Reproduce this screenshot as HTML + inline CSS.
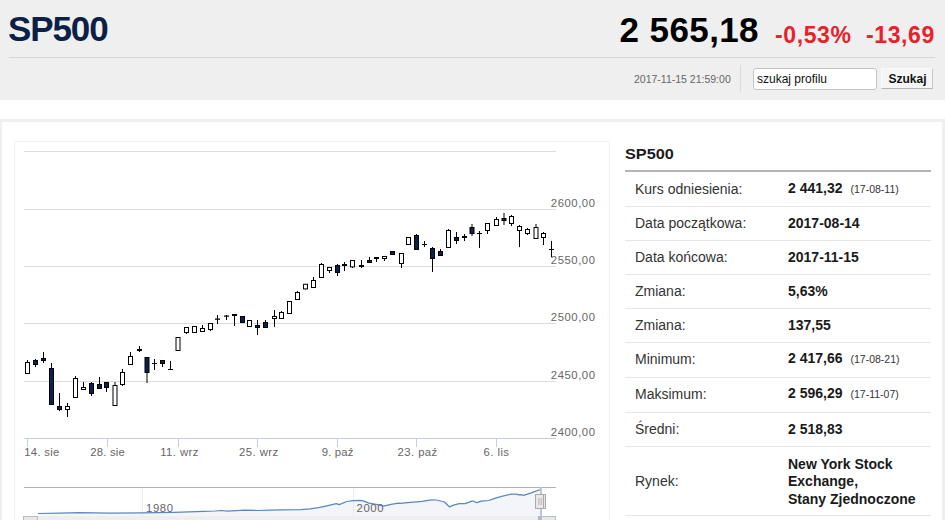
<!DOCTYPE html>
<html><head><meta charset="utf-8"><title>SP500</title>
<style>
*{box-sizing:border-box;margin:0;padding:0}
html,body{width:945px;height:520px;overflow:hidden;background:#fff;font-family:"Liberation Sans",sans-serif}
.abs{position:absolute}
#hdr{position:absolute;left:0;top:0;width:945px;height:100px;background:#efefef}
#title{position:absolute;left:8px;top:9px;font-size:35px;line-height:40px;font-weight:bold;color:#0b1f47;letter-spacing:-1.1px;white-space:nowrap}
#hline{position:absolute;left:9px;top:57px;width:926px;height:1px;background:#d6d6d6}
#price{position:absolute;right:186px;top:10px;font-size:35px;line-height:40px;font-weight:bold;color:#000;white-space:nowrap;letter-spacing:0.4px}
#pct{position:absolute;left:775px;top:22px;font-size:23px;line-height:26px;font-weight:bold;color:#e8212b;white-space:nowrap;letter-spacing:0.6px}
#chg{position:absolute;left:866px;top:22px;font-size:23px;line-height:26px;font-weight:bold;color:#e8212b;white-space:nowrap;letter-spacing:0.6px}
#date{position:absolute;left:634px;top:73px;font-size:10.5px;line-height:13px;color:#666;white-space:nowrap}
#vsep{position:absolute;left:740px;top:65px;width:1px;height:27px;background:#dadada}
#inp{position:absolute;left:753px;top:68px;width:124px;height:22px;background:#fff;border:1px solid #c4c4c4;border-radius:3px;font-size:12px;line-height:20px;padding-left:3px;color:#111;white-space:nowrap}
#btn{position:absolute;left:881px;top:68px;width:52px;height:21px;background:#f5f5f5;border:1px solid #fafafa;border-right-color:#c9c9c9;border-bottom-color:#b5b5b5;font-size:12px;line-height:20px;font-weight:bold;color:#111;text-align:center;white-space:nowrap;padding-left:1px}
#box{position:absolute;left:-1px;top:119px;width:946px;height:420px;border:3px solid #efefef;background:#fff}
#chartbox{position:absolute;left:14px;top:141px;width:596px;height:400px;border:1px solid #f0f1f3;background:#fff}
svg text.ax{font-family:"Liberation Sans",sans-serif;font-size:11.3px;fill:#666}
#ptitle{position:absolute;left:624.5px;top:145px;font-size:15px;line-height:18px;font-weight:bold;color:#1c1c1c;white-space:nowrap;transform:scaleX(1.085);transform-origin:0 0}
#pline{position:absolute;left:625px;top:170px;width:306px;height:2px;background:#b4b4b4}
.sep{position:absolute;left:625px;width:306px;height:1px;background:#e6e6e6}
.lab{position:absolute;left:635px;font-size:14px;line-height:16px;color:#333;white-space:nowrap}
.val{position:absolute;left:788px;font-size:14px;line-height:16px;font-weight:bold;color:#1a1a1a;white-space:nowrap}
.sm{font-size:10.5px;font-weight:normal;color:#333;margin-left:8px;position:relative;top:-0.5px}
</style></head><body>
<div id="hdr">
<div id="title">SP500</div>
<div id="hline"></div>
<div id="price">2 565,18</div>
<div id="pct">-0,53%</div>
<div id="chg">-13,69</div>
<div id="date">2017-11-15 21:59:00</div>
<div id="vsep"></div>
<div id="inp">szukaj profilu</div>
<div id="btn">Szukaj</div>
</div>
<div id="box"></div>
<div id="chartbox"></div>
<svg class="abs" style="left:0;top:0" width="945" height="520" viewBox="0 0 945 520" shape-rendering="crispEdges">
<rect x="24" y="151" width="532" height="1" fill="#dcdcdc"/><rect x="24" y="209" width="532" height="1" fill="#dcdcdc"/><rect x="24" y="266" width="532" height="1" fill="#dcdcdc"/><rect x="24" y="323" width="532" height="1" fill="#dcdcdc"/><rect x="24" y="381" width="532" height="1" fill="#dcdcdc"/>
<rect x="24" y="438" width="532" height="1" fill="#c0d0e0"/>
<rect x="27" y="438" width="1" height="9" fill="#c0d0e0"/><rect x="107" y="438" width="1" height="9" fill="#c0d0e0"/><rect x="178" y="438" width="1" height="9" fill="#c0d0e0"/><rect x="257" y="438" width="1" height="9" fill="#c0d0e0"/><rect x="337" y="438" width="1" height="9" fill="#c0d0e0"/><rect x="416" y="438" width="1" height="9" fill="#c0d0e0"/><rect x="496" y="438" width="1" height="9" fill="#c0d0e0"/>
<g shape-rendering="auto"><text x="550.8" y="207" class="ax" textLength="44.2" lengthAdjust="spacing">2600,00</text><text x="550.8" y="264" class="ax" textLength="44.2" lengthAdjust="spacing">2550,00</text><text x="550.8" y="321" class="ax" textLength="44.2" lengthAdjust="spacing">2500,00</text><text x="550.8" y="378.5" class="ax" textLength="44.2" lengthAdjust="spacing">2450,00</text><text x="550.8" y="435.5" class="ax" textLength="44.2" lengthAdjust="spacing">2400,00</text><text x="24.3" y="455.5" text-anchor="start" class="ax" textLength="35" lengthAdjust="spacing">14. sie</text><text x="107.5" y="455.5" text-anchor="middle" class="ax" textLength="34.5" lengthAdjust="spacing">28. sie</text><text x="179.3" y="455.5" text-anchor="middle" class="ax" textLength="38.2" lengthAdjust="spacing">11. wrz</text><text x="258.6" y="455.5" text-anchor="middle" class="ax" textLength="39.1" lengthAdjust="spacing">25. wrz</text><text x="337.6" y="455.5" text-anchor="middle" class="ax" textLength="31.5" lengthAdjust="spacing">9. paź</text><text x="417.4" y="455.5" text-anchor="middle" class="ax" textLength="39.7" lengthAdjust="spacing">23. paź</text><text x="496.3" y="455.5" text-anchor="middle" class="ax" textLength="25.4" lengthAdjust="spacing">6. lis</text></g>
<g shape-rendering="geometricPrecision">
<rect x="27" y="360" width="1" height="14" fill="#000"/>
<rect x="25" y="362" width="5" height="12" fill="#000"/>
<rect x="26" y="363" width="3" height="10" fill="#fff"/>
<rect x="35" y="359" width="1" height="8" fill="#000"/>
<rect x="33" y="360" width="5" height="5" fill="#000"/>
<rect x="34" y="361" width="3" height="3" fill="#0a2149"/>
<rect x="43" y="352" width="1" height="11" fill="#000"/>
<rect x="41" y="358" width="5" height="3" fill="#000"/>
<rect x="42" y="359" width="3" height="1" fill="#0a2149"/>
<rect x="51" y="363" width="1" height="42" fill="#000"/>
<rect x="49" y="368" width="5" height="37" fill="#000"/>
<rect x="50" y="369" width="3" height="35" fill="#0a2149"/>
<rect x="59" y="393" width="1" height="18" fill="#000"/>
<rect x="57" y="406" width="5" height="4" fill="#000"/>
<rect x="58" y="407" width="3" height="2" fill="#0a2149"/>
<rect x="67" y="403" width="1" height="14" fill="#000"/>
<rect x="65" y="406" width="5" height="4" fill="#000"/>
<rect x="66" y="407" width="3" height="2" fill="#fff"/>
<rect x="75" y="376" width="1" height="22" fill="#000"/>
<rect x="73" y="378" width="5" height="20" fill="#000"/>
<rect x="74" y="379" width="3" height="18" fill="#fff"/>
<rect x="83" y="382" width="1" height="8" fill="#000"/>
<rect x="81" y="387" width="5" height="3" fill="#000"/>
<rect x="82" y="388" width="3" height="1" fill="#fff"/>
<rect x="91" y="382" width="1" height="14" fill="#000"/>
<rect x="89" y="383" width="5" height="11" fill="#000"/>
<rect x="90" y="384" width="3" height="9" fill="#0a2149"/>
<rect x="99" y="377" width="1" height="12" fill="#000"/>
<rect x="97" y="384" width="5" height="5" fill="#000"/>
<rect x="98" y="385" width="3" height="3" fill="#0a2149"/>
<rect x="106" y="382" width="1" height="10" fill="#000"/>
<rect x="104" y="382" width="5" height="6" fill="#000"/>
<rect x="105" y="383" width="3" height="4" fill="#0a2149"/>
<rect x="114.5" y="382" width="1" height="24" fill="#000"/>
<rect x="112.5" y="385" width="5" height="21" fill="#000"/>
<rect x="113.5" y="386" width="3" height="19" fill="#fff"/>
<rect x="122" y="369" width="1" height="17" fill="#000"/>
<rect x="120" y="372" width="5" height="13" fill="#000"/>
<rect x="121" y="373" width="3" height="11" fill="#fff"/>
<rect x="130" y="352" width="1" height="13" fill="#000"/>
<rect x="128" y="356" width="5" height="9" fill="#000"/>
<rect x="129" y="357" width="3" height="7" fill="#fff"/>
<rect x="139" y="346" width="1" height="6" fill="#000"/>
<rect x="137" y="349" width="5" height="2" fill="#000"/>
<rect x="146.5" y="357" width="1" height="26" fill="#000"/>
<rect x="144.5" y="357" width="5" height="16" fill="#000"/>
<rect x="145.5" y="358" width="3" height="14" fill="#0a2149"/>
<rect x="154" y="359" width="1" height="11" fill="#000"/>
<rect x="152" y="363" width="5" height="1" fill="#000"/>
<rect x="162" y="360" width="1" height="7" fill="#000"/>
<rect x="160" y="360" width="5" height="4" fill="#000"/>
<rect x="161" y="361" width="3" height="2" fill="#0a2149"/>
<rect x="170" y="361" width="1" height="9" fill="#000"/>
<rect x="168" y="369" width="5" height="1" fill="#000"/>
<rect x="177.5" y="337" width="1" height="14" fill="#000"/>
<rect x="175.5" y="337" width="5" height="14" fill="#000"/>
<rect x="176.5" y="338" width="3" height="12" fill="#fff"/>
<rect x="186" y="327" width="1" height="7" fill="#000"/>
<rect x="184" y="327" width="5" height="6" fill="#000"/>
<rect x="185" y="328" width="3" height="4" fill="#fff"/>
<rect x="194" y="326" width="1" height="7" fill="#000"/>
<rect x="192" y="326" width="5" height="7" fill="#000"/>
<rect x="193" y="327" width="3" height="5" fill="#fff"/>
<rect x="202" y="325" width="1" height="7" fill="#000"/>
<rect x="200" y="328" width="5" height="4" fill="#000"/>
<rect x="201" y="329" width="3" height="2" fill="#fff"/>
<rect x="210" y="323" width="1" height="8" fill="#000"/>
<rect x="208" y="323" width="5" height="7" fill="#000"/>
<rect x="209" y="324" width="3" height="5" fill="#fff"/>
<rect x="217" y="315" width="1" height="9" fill="#000"/>
<rect x="215" y="318.5" width="5" height="1.3000000000000114" fill="#000"/>
<rect x="226" y="315" width="1" height="5" fill="#000"/>
<rect x="224" y="315.5" width="5" height="1.1999999999999886" fill="#000"/>
<rect x="234" y="314" width="1" height="12" fill="#000"/>
<rect x="232" y="314" width="5" height="2" fill="#000"/>
<rect x="242" y="316" width="1" height="7" fill="#000"/>
<rect x="240" y="316" width="5" height="7" fill="#000"/>
<rect x="241" y="317" width="3" height="5" fill="#0a2149"/>
<rect x="249" y="320" width="1" height="7" fill="#000"/>
<rect x="247" y="320" width="5" height="7" fill="#000"/>
<rect x="248" y="321" width="3" height="5" fill="#fff"/>
<rect x="257" y="320" width="1" height="15" fill="#000"/>
<rect x="255" y="325" width="5" height="3" fill="#000"/>
<rect x="256" y="326" width="3" height="1" fill="#0a2149"/>
<rect x="265" y="320" width="1" height="8" fill="#000"/>
<rect x="263" y="322" width="5" height="6" fill="#000"/>
<rect x="264" y="323" width="3" height="4" fill="#0a2149"/>
<rect x="274" y="310" width="1" height="17" fill="#000"/>
<rect x="272" y="316" width="5" height="3" fill="#000"/>
<rect x="273" y="317" width="3" height="1" fill="#fff"/>
<rect x="281" y="311" width="1" height="8" fill="#000"/>
<rect x="279" y="312" width="5" height="7" fill="#000"/>
<rect x="280" y="313" width="3" height="5" fill="#fff"/>
<rect x="289" y="301" width="1" height="13" fill="#000"/>
<rect x="287" y="301" width="5" height="13" fill="#000"/>
<rect x="288" y="302" width="3" height="11" fill="#fff"/>
<rect x="297" y="291" width="1" height="9" fill="#000"/>
<rect x="295" y="292" width="5" height="8" fill="#000"/>
<rect x="296" y="293" width="3" height="6" fill="#fff"/>
<rect x="305" y="283.8" width="1" height="5.599999999999966" fill="#000"/>
<rect x="303" y="283.8" width="5" height="5.599999999999966" fill="#000"/>
<rect x="304" y="284.8" width="3" height="3.599999999999966" fill="#fff"/>
<rect x="313" y="277" width="1" height="11" fill="#000"/>
<rect x="311" y="280" width="5" height="8" fill="#000"/>
<rect x="312" y="281" width="3" height="6" fill="#fff"/>
<rect x="321" y="263" width="1" height="15" fill="#000"/>
<rect x="319" y="264" width="5" height="14" fill="#000"/>
<rect x="320" y="265" width="3" height="12" fill="#fff"/>
<rect x="329" y="267" width="1" height="6" fill="#000"/>
<rect x="327" y="267" width="5" height="4" fill="#000"/>
<rect x="328" y="268" width="3" height="2" fill="#fff"/>
<rect x="337" y="264" width="1" height="12" fill="#000"/>
<rect x="335" y="265" width="5" height="8" fill="#000"/>
<rect x="336" y="266" width="3" height="6" fill="#0a2149"/>
<rect x="344" y="262" width="1" height="9" fill="#000"/>
<rect x="342" y="264" width="5" height="2" fill="#000"/>
<rect x="352" y="260" width="1" height="8" fill="#000"/>
<rect x="350" y="260" width="5" height="7.399999999999977" fill="#000"/>
<rect x="351" y="261" width="3" height="5.399999999999977" fill="#fff"/>
<rect x="361" y="260" width="1" height="8" fill="#000"/>
<rect x="359" y="265" width="5" height="2" fill="#000"/>
<rect x="369" y="257" width="1" height="6" fill="#000"/>
<rect x="367" y="260" width="5" height="3" fill="#000"/>
<rect x="368" y="261" width="3" height="1" fill="#0a2149"/>
<rect x="376" y="257" width="1" height="5" fill="#000"/>
<rect x="374" y="257" width="5" height="2" fill="#000"/>
<rect x="384" y="256" width="1" height="5" fill="#000"/>
<rect x="382" y="256" width="5" height="3" fill="#000"/>
<rect x="383" y="257" width="3" height="1" fill="#fff"/>
<rect x="392" y="251" width="1" height="4" fill="#000"/>
<rect x="390" y="251" width="5" height="4" fill="#000"/>
<rect x="391" y="252" width="3" height="2" fill="#0a2149"/>
<rect x="401" y="253" width="1" height="15" fill="#000"/>
<rect x="399" y="253" width="5" height="11" fill="#000"/>
<rect x="400" y="254" width="3" height="9" fill="#fff"/>
<rect x="408" y="237" width="1" height="8" fill="#000"/>
<rect x="406" y="237" width="5" height="8" fill="#000"/>
<rect x="407" y="238" width="3" height="6" fill="#fff"/>
<rect x="416" y="234" width="1" height="16" fill="#000"/>
<rect x="414" y="235" width="5" height="15" fill="#000"/>
<rect x="415" y="236" width="3" height="13" fill="#0a2149"/>
<rect x="424" y="241" width="1" height="6" fill="#000"/>
<rect x="422" y="244" width="5" height="1" fill="#000"/>
<rect x="432" y="247" width="1" height="25" fill="#000"/>
<rect x="430" y="248" width="5" height="11" fill="#000"/>
<rect x="431" y="249" width="3" height="9" fill="#0a2149"/>
<rect x="440" y="249" width="1" height="7" fill="#000"/>
<rect x="438" y="251" width="5" height="5" fill="#000"/>
<rect x="439" y="252" width="3" height="3" fill="#0a2149"/>
<rect x="448" y="229" width="1" height="19" fill="#000"/>
<rect x="446" y="230" width="5" height="18" fill="#000"/>
<rect x="447" y="231" width="3" height="16" fill="#fff"/>
<rect x="456" y="232" width="1" height="12" fill="#000"/>
<rect x="454" y="237" width="5" height="4" fill="#000"/>
<rect x="455" y="238" width="3" height="2" fill="#0a2149"/>
<rect x="464" y="234" width="1" height="7" fill="#000"/>
<rect x="462" y="236" width="5" height="2" fill="#000"/>
<rect x="471.5" y="224" width="1" height="12" fill="#000"/>
<rect x="469.5" y="227" width="5" height="7" fill="#000"/>
<rect x="470.5" y="228" width="3" height="5" fill="#0a2149"/>
<rect x="479" y="231" width="1" height="17" fill="#000"/>
<rect x="477" y="233" width="5" height="1" fill="#000"/>
<rect x="487" y="223" width="1" height="11" fill="#000"/>
<rect x="485" y="223" width="5" height="8" fill="#000"/>
<rect x="486" y="224" width="3" height="6" fill="#fff"/>
<rect x="496" y="217" width="1" height="9" fill="#000"/>
<rect x="494" y="219" width="5" height="7" fill="#000"/>
<rect x="495" y="220" width="3" height="5" fill="#fff"/>
<rect x="503.5" y="213" width="1" height="12" fill="#000"/>
<rect x="501.5" y="218" width="5" height="3" fill="#000"/>
<rect x="502.5" y="219" width="3" height="1" fill="#0a2149"/>
<rect x="511" y="215" width="1" height="11" fill="#000"/>
<rect x="509" y="216" width="5" height="8" fill="#000"/>
<rect x="510" y="217" width="3" height="6" fill="#fff"/>
<rect x="519" y="225" width="1" height="22" fill="#000"/>
<rect x="517" y="226" width="5" height="5" fill="#000"/>
<rect x="518" y="227" width="3" height="3" fill="#fff"/>
<rect x="527" y="228" width="1" height="7" fill="#000"/>
<rect x="525" y="229" width="5" height="5" fill="#000"/>
<rect x="526" y="230" width="3" height="3" fill="#fff"/>
<rect x="535.5" y="224" width="1" height="15" fill="#000"/>
<rect x="533.5" y="227" width="5" height="12" fill="#000"/>
<rect x="534.5" y="228" width="3" height="10" fill="#fff"/>
<rect x="543" y="232" width="1" height="13" fill="#000"/>
<rect x="541" y="233" width="5" height="5" fill="#000"/>
<rect x="542" y="234" width="3" height="3" fill="#fff"/>
<rect x="551" y="241" width="1" height="16" fill="#000"/>
<rect x="549" y="249" width="5" height="1" fill="#000"/>
</g>
<!-- navigator -->
<g shape-rendering="auto">
<path d="M38,513.5 L60,513.1 L79,512.7 L110,513 L141.5,512.9 L174,512.3 L203.7,511.4 L215,511 L221.5,510.5 L227.4,511.1 L245,510.2 L257,510.5 L270,510.1 L280.7,509.8 L300.7,509.6 L310,508.8 L318.5,507.6 L328,505.6 L336.3,503.7 L339.3,504.6 L346.7,501.5 L353,500.6 L360,500.3 L364,501.2 L368.9,503.1 L376,504.4 L383.7,506.1 L391,504.3 L398.5,503.1 L400,503.4 L410.2,502.4 L422,501.3 L431.3,499.8 L436.4,500 L440.6,501 L444.4,502 L449.4,506.8 L454.2,504.9 L459.3,503.7 L465.2,503.7 L472,501.2 L473.7,501.2 L476.7,502.7 L481.3,501.2 L488.9,500.5 L494.8,498.3 L501.6,496.3 L510.9,494.2 L516.8,494.2 L518.5,494.9 L521.1,494.6 L523.6,495.4 L531.2,492.9 L540.5,489.5 L541,527 L38,527 Z" fill="#f3f5f9"/>
<rect x="142" y="487" width="1" height="33" fill="#eaeaea"/>
<rect x="353" y="487" width="1" height="33" fill="#eaeaea"/>
<path d="M38,513.5 L60,513.1 L79,512.7 L110,513 L141.5,512.9 L174,512.3 L203.7,511.4 L215,511 L221.5,510.5 L227.4,511.1 L245,510.2 L257,510.5 L270,510.1 L280.7,509.8 L300.7,509.6 L310,508.8 L318.5,507.6 L328,505.6 L336.3,503.7 L339.3,504.6 L346.7,501.5 L353,500.6 L360,500.3 L364,501.2 L368.9,503.1 L376,504.4 L383.7,506.1 L391,504.3 L398.5,503.1 L400,503.4 L410.2,502.4 L422,501.3 L431.3,499.8 L436.4,500 L440.6,501 L444.4,502 L449.4,506.8 L454.2,504.9 L459.3,503.7 L465.2,503.7 L472,501.2 L473.7,501.2 L476.7,502.7 L481.3,501.2 L488.9,500.5 L494.8,498.3 L501.6,496.3 L510.9,494.2 L516.8,494.2 L518.5,494.9 L521.1,494.6 L523.6,495.4 L531.2,492.9 L540.5,489.5" fill="none" stroke="#5b87bd" stroke-width="1.25" stroke-linejoin="round"/>
<text x="146" y="512.3" class="ax" textLength="27" lengthAdjust="spacing">1980</text>
<text x="356.5" y="512" class="ax" textLength="27" lengthAdjust="spacing">2000</text>
</g>
<rect x="24" y="487" width="532" height="1" fill="#b2b1b6"/>
<rect x="540" y="487" width="2" height="33" fill="#b9c8df"/>
<rect x="24" y="516" width="532" height="4" fill="#eeeeee"/>
<rect x="538" y="516" width="4" height="4" fill="#a9b8d3"/>
<g shape-rendering="geometricPrecision">
<rect x="23.5" y="516.5" width="14" height="14" fill="#ebe7e8" stroke="#bdbdbd"/>
<rect x="541.5" y="516.5" width="14" height="14" fill="#ebe7e8" stroke="#bdbdbd"/>
<rect x="537.5" y="494.5" width="8" height="14" fill="#ebe7e8" stroke="#a9a9a9"/>
<rect x="535.5" y="494.5" width="8" height="14" fill="#ebe7e8" stroke="#a9a9a9"/>
<rect x="538.1" y="498" width="1.5" height="7" fill="#c6c3c5"/>
<rect x="540.6" y="498" width="1.5" height="7" fill="#c6c3c5"/>
</g>
</svg>
<div id="ptitle">SP500</div>
<div id="pline"></div>
<div class="lab" style="top:181px">Kurs odniesienia:</div><div class="val" style="top:180px">2 441,32<span class="sm">(17-08-11)</span></div>
<div class="sep" style="top:206px"></div><div class="lab" style="top:215px">Data początkowa:</div><div class="val" style="top:215px">2017-08-14</div>
<div class="sep" style="top:240px"></div><div class="lab" style="top:249px">Data końcowa:</div><div class="val" style="top:249px">2017-11-15</div>
<div class="sep" style="top:274px"></div><div class="lab" style="top:283px">Zmiana:</div><div class="val" style="top:283px">5,63%</div>
<div class="sep" style="top:308px"></div><div class="lab" style="top:317px">Zmiana:</div><div class="val" style="top:317px">137,55</div>
<div class="sep" style="top:342px"></div><div class="lab" style="top:351px">Minimum:</div><div class="val" style="top:350px">2 417,66<span class="sm">(17-08-21)</span></div>
<div class="sep" style="top:377px"></div><div class="lab" style="top:386px">Maksimum:</div><div class="val" style="top:385px">2 596,29<span class="sm">(17-11-07)</span></div>
<div class="sep" style="top:412px"></div><div class="lab" style="top:421px">Średni:</div><div class="val" style="top:421px">2 518,83</div>

<div class="sep" style="top:446px"></div>
<div class="lab" style="top:472.5px">Rynek:</div>
<div class="val" style="top:456px;line-height:17.3px">New York Stock<br>Exchange,<br>Stany Zjednoczone</div>
<div class="sep" style="top:515px"></div>
</body></html>
